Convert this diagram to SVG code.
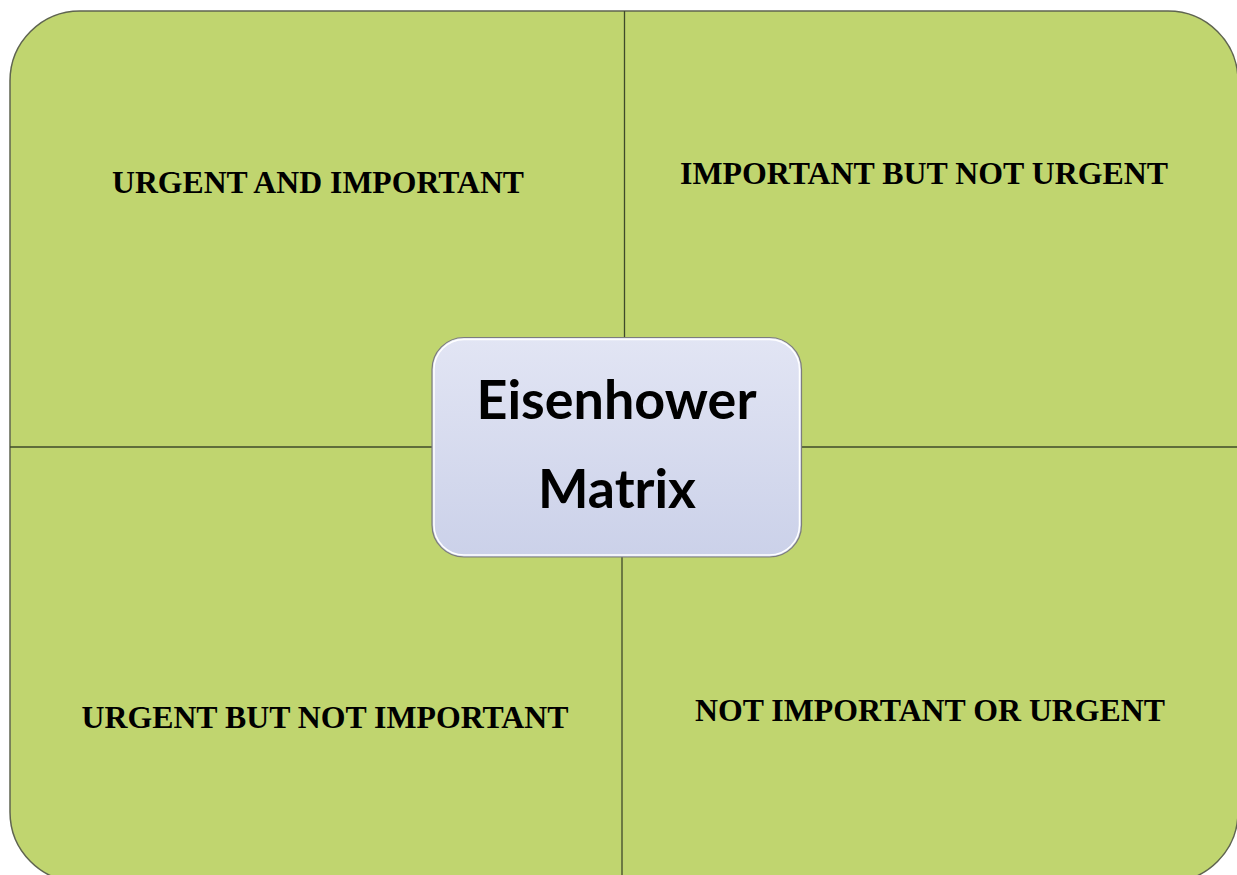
<svg xmlns="http://www.w3.org/2000/svg" width="1237" height="875" viewBox="0 0 1237 875">
  <defs>
    <linearGradient id="centerGrad" x1="0" y1="0" x2="0" y2="1">
      <stop offset="0" stop-color="#e2e5f4"/>
      <stop offset="1" stop-color="#cbd1e9"/>
    </linearGradient>
    <style>
      .quad { font-family: "Liberation Serif", "Times New Roman", serif; font-weight: bold; font-size: 32px; fill: #000; text-anchor: middle; }
      .center { font-family: Lato, "Open Sans", sans-serif; font-weight: bold; font-size: 53px; fill: #000; text-anchor: middle; }
      .divider { stroke: #3f4a2a; stroke-width: 1.3; fill: none; }
    </style>
  </defs>
  <rect width="1237" height="875" fill="#ffffff"/>
  <g id="background">
    <rect x="10" y="11" width="1228" height="871" rx="70" ry="70" fill="#c0d56f" stroke="#5f6450" stroke-width="1.5"/>
  </g>
  <g id="connectors">
    <line class="divider" x1="624.5" y1="11" x2="624.5" y2="338"/>
    <line class="divider" x1="622" y1="557" x2="622" y2="882"/>
    <line class="divider" x1="10" y1="447" x2="432" y2="447"/>
    <line class="divider" x1="801" y1="447" x2="1238" y2="447"/>
  </g>
  <g id="q1">
    <text class="quad" x="318" y="193" textLength="412" lengthAdjust="spacingAndGlyphs">URGENT AND IMPORTANT</text>
  </g>
  <g id="q2">
    <text class="quad" x="924" y="184" textLength="488" lengthAdjust="spacingAndGlyphs">IMPORTANT BUT NOT URGENT</text>
  </g>
  <g id="q3">
    <text class="quad" x="325" y="728" textLength="487" lengthAdjust="spacingAndGlyphs">URGENT BUT NOT IMPORTANT</text>
  </g>
  <g id="q4">
    <text class="quad" x="930" y="721" textLength="470" lengthAdjust="spacingAndGlyphs">NOT IMPORTANT OR URGENT</text>
  </g>
  <g id="center">
    <rect x="432" y="337.5" width="369.5" height="219.5" rx="32" ry="32" fill="url(#centerGrad)" stroke="#7d7d7d" stroke-width="1.2"/>
    <rect x="434" y="339.5" width="365.5" height="215.5" rx="30" ry="30" fill="none" stroke="#ffffff" stroke-width="1.5"/>
    <text class="center" x="616.5" y="419" textLength="280" lengthAdjust="spacingAndGlyphs">Eisenhower</text>
    <text class="center" x="617" y="508" textLength="158" lengthAdjust="spacingAndGlyphs">Matrix</text>
  </g>
</svg>
